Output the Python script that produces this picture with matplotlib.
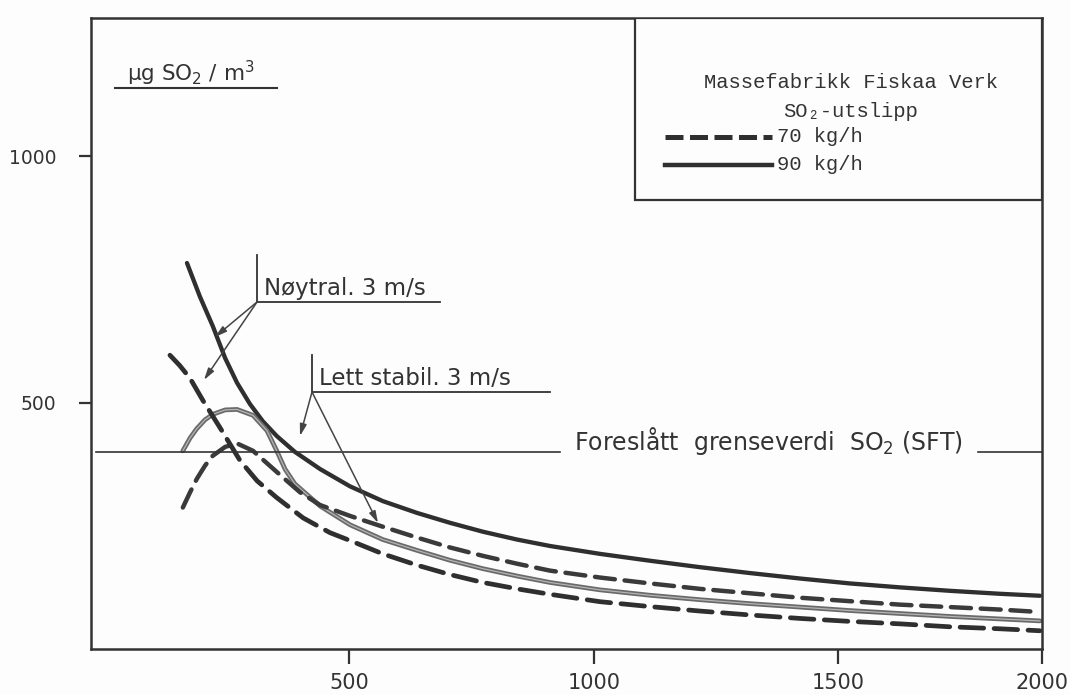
import numpy as np
import matplotlib
matplotlib.use("Agg")
import matplotlib.pyplot as plt
from matplotlib.lines import Line2D

# ---------------- data ----------------
x_ticks = [500, 1000, 1500, 2000]
y_ticks = [500, 1000]
limit_value = 400  # Foreslått grenseverdi SO2 (SFT)

# 90 kg/h, Nøytral 3 m/s (dark solid)
x_90_n = [186, 211, 236, 260, 283, 308, 333, 360, 395, 444, 502, 569, 639, 706,
          773, 843, 910, 1012, 1115, 1217, 1320, 1422, 1529, 1652, 1775, 1897, 1995]
y_90_n = [783, 715, 655, 590, 540, 497, 462, 432, 400, 365, 330, 300, 276, 256,
          238, 222, 209, 193, 179, 166, 154, 143, 133, 125, 118, 112, 108]

# 90 kg/h, Lett stabil 3 m/s (grey solid)
x_90_s = [178, 192, 205, 221, 236, 260, 283, 314, 341, 360, 376, 395, 444, 502,
          569, 639, 706, 773, 843, 910, 1012, 1115, 1217, 1320, 1422, 1529, 1652,
          1775, 1897, 1995]
y_90_s = [402, 428, 447, 465, 476, 485, 486, 474, 443, 402, 365, 335, 290, 252,
          222, 200, 180, 163, 148, 135, 120, 109, 100, 92, 85, 78, 72, 66, 61, 57]

# 70 kg/h, Lett stabil 3 m/s (upper dashed)
x_70_s = [178, 192, 205, 221, 236, 260, 283, 314, 343, 372, 405, 444, 502, 563,
          639, 706, 773, 843, 910, 1012, 1115, 1217, 1320, 1422, 1529, 1652, 1775,
          1897, 1995]
y_70_s = [287, 318, 345, 372, 392, 410, 417, 402, 375, 348, 318, 292, 270, 250,
          226, 206, 189, 173, 159, 145, 133, 122, 113, 104, 97, 90, 85, 80, 75]

# 70 kg/h, Nøytral 3 m/s (lower dashed)
x_70_n = [153, 172, 192, 217, 250, 289, 322, 360, 411, 463, 502, 569, 639, 706,
          773, 849, 910, 1012, 1115, 1217, 1320, 1422, 1529, 1652, 1775, 1897, 1995]
y_70_n = [596, 575, 549, 504, 449, 382, 341, 307, 266, 236, 220, 193, 170, 151,
          135, 121, 111, 96, 86, 77, 69, 62, 56, 51, 45, 41, 37]

# ---------------- figure ----------------
W, H = 1070, 695
fig = plt.figure(figsize=(W / 100, H / 100), dpi=100)
fig.patch.set_facecolor("#fdfdfd")
AX_L, AX_R, AX_T, AX_B = 91, 1042, 18, 649
ax = fig.add_axes([AX_L / W, 1 - AX_B / H, (AX_R - AX_L) / W, (AX_B - AX_T) / H])
ax.set_facecolor("#fdfdfd")

# the hand-drawn distance axis is slightly uneven: piecewise-linear scale
XB = np.array([0.0, 500.0, 1000.0, 1500.0, 2000.0])
PB = np.array([0.0, 258.0, 503.0, 747.0, 951.0])


def fwd(x):
    x = np.asarray(x, dtype=float)
    lo = x * (PB[1] / 500.0)
    hi = PB[-1] + (x - 2000.0) * ((PB[-1] - PB[-2]) / 500.0)
    return np.where(x < 0, lo, np.where(x > 2000, hi, np.interp(x, XB, PB)))


def inv(p):
    p = np.asarray(p, dtype=float)
    lo = p * (500.0 / PB[1])
    hi = 2000.0 + (p - PB[-1]) * (500.0 / (PB[-1] - PB[-2]))
    return np.where(p < 0, lo, np.where(p > PB[-1], hi, np.interp(p, PB, XB)))


ax.set_xscale("function", functions=(fwd, inv))
ax.set_xlim(0, 2000)
ax.set_ylim(0, 1280)

DARK = "#2f2f2f"
GREY = "#6a6a6a"
INK = "#333333"

ax.plot(x_90_n, y_90_n, color=DARK, lw=3.1, solid_capstyle="round",
        solid_joinstyle="round")
# grey curve drawn with the washed-out "hollow" look of the scan
ax.plot(x_90_s, y_90_s, color=GREY, lw=3.4, solid_capstyle="round",
        solid_joinstyle="round")
ax.plot(x_90_s, y_90_s, color="#b4b4b4", lw=0.9, solid_capstyle="round",
        solid_joinstyle="round")
ax.plot(x_70_s, y_70_s, color="#3a3a3a", lw=3.2, dashes=(4.5, 2.2),
        dash_capstyle="round")
ax.plot(x_70_n, y_70_n, color=DARK, lw=3.4, dashes=(5, 2.2),
        dash_capstyle="round")


def P(px, py):
    """pixel position -> axes fraction (annotation layout only)"""
    return ((px - AX_L) / (AX_R - AX_L), (AX_B - py) / (AX_B - AX_T))


SANS = "DejaVu Sans"

# limit line with its text
y_lim_ax = ax.transAxes.inverted().transform(ax.transData.transform((0, limit_value)))[1]
ax.plot([P(96, 0)[0], P(560, 0)[0]], [y_lim_ax] * 2, transform=ax.transAxes,
        color=INK, lw=1.2)
ax.plot([P(978, 0)[0], 1.0], [y_lim_ax] * 2, transform=ax.transAxes,
        color=INK, lw=1.2)
ax.text(*P(574, 441), "Foreslått  grenseverdi  SO$_2$ (SFT)", transform=ax.transAxes,
        fontsize=17, color=INK, va="center", ha="left", family=SANS)

# unit label
ax.text(*P(127, 81), "µg SO$_2$ / m$^3$", transform=ax.transAxes, fontsize=15.5,
        color=INK, va="baseline", ha="left", family=SANS)
ax.plot([P(115, 0)[0], P(277, 0)[0]], [P(0, 88)[1]] * 2, transform=ax.transAxes,
        color=INK, lw=1.5)

lk = dict(transform=ax.transAxes, color=INK, lw=1.3)


def leader(vx, vy0, vy1, ux1, text, tsize, targets):
    ax.plot([P(vx, 0)[0]] * 2, [P(0, vy0)[1], P(0, vy1)[1]], **lk)
    ax.plot([P(vx, 0)[0], P(ux1, 0)[0]], [P(0, vy1)[1]] * 2, **lk)
    ax.text(*P(vx + 7, vy1 - 7), text, transform=ax.transAxes, fontsize=tsize,
            color=INK, va="baseline", ha="left", family=SANS)
    for tx, ty in targets:
        ax.annotate("", xy=P(tx, ty), xycoords="axes fraction",
                    xytext=P(vx, vy1), textcoords="axes fraction",
                    arrowprops=dict(arrowstyle="-|>,head_length=0.7,head_width=0.2",
                                    color="#444", lw=1.1, shrinkA=0, shrinkB=0))


leader(257, 255, 302, 440, "Nøytral. 3 m/s", 16.5, [(215, 337), (204, 380)])
leader(312, 355, 392, 550, "Lett stabil. 3 m/s", 16.5, [(300, 436), (378, 523)])

# legend box (drawn like the original)
bx0, by0 = P(635, 200)
bx1, by1 = P(1042, 18)
ax.add_patch(plt.Rectangle((bx0, by0), bx1 - bx0, by1 - by0, transform=ax.transAxes,
                           fill=True, facecolor="#fdfdfd", edgecolor=INK,
                           lw=1.6, zorder=5))
mono = ["Liberation Mono", "DejaVu Sans Mono"]
LFS = 14.8
ax.text(*P(851, 83), "Massefabrikk Fiskaa Verk", transform=ax.transAxes,
        fontsize=LFS, family=mono, ha="center", va="center", color=INK, zorder=6)
ax.text(*P(851, 112), "SO₂-utslipp", transform=ax.transAxes,
        fontsize=LFS, family=mono, ha="center", va="center", color=INK, zorder=6)
ax.add_line(Line2D([P(665, 0)[0], P(772, 0)[0]], [P(0, 137)[1]] * 2,
                   transform=ax.transAxes, color=DARK, lw=3.6, dashes=(3.6, 1.3),
                   zorder=6))
ax.add_line(Line2D([P(665, 0)[0], P(772, 0)[0]], [P(0, 165)[1]] * 2,
                   transform=ax.transAxes, color=DARK, lw=3.2, zorder=6))
ax.text(*P(777, 137), "70 kg/h", transform=ax.transAxes, fontsize=LFS,
        family=mono, ha="left", va="center", color=INK, zorder=6)
ax.text(*P(777, 165), "90 kg/h", transform=ax.transAxes, fontsize=LFS,
        family=mono, ha="left", va="center", color=INK, zorder=6)

# axes styling
for s in ax.spines.values():
    s.set_color(INK)
    s.set_linewidth(1.8)
ax.set_xticks(x_ticks)
ax.set_xticklabels([str(v) for v in x_ticks])
ax.set_yticks(y_ticks)
ax.set_yticklabels([str(v) for v in y_ticks])
ax.tick_params(axis="x", direction="out", length=11, width=1.6, colors=INK,
               labelsize=15, pad=6)
ax.tick_params(axis="y", direction="out", length=9, width=1.6, colors=INK,
               labelsize=13.5, pad=16)
for lab in ax.get_xticklabels() + ax.get_yticklabels():
    lab.set_family(SANS)

fig.savefig("out.png", dpi=100, facecolor=fig.get_facecolor())
